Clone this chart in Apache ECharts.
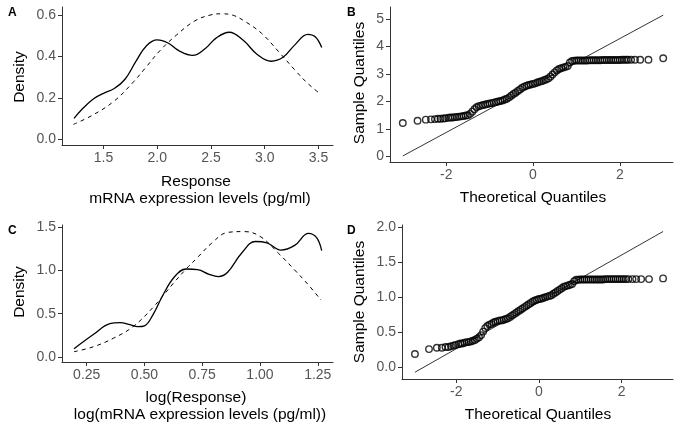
<!DOCTYPE html>
<html lang="en">
<head>
    <meta charset="UTF-8">
    <title>Density and QQ plots</title>
    <script src="https://cdn.jsdelivr.net/npm/echarts@6/dist/echarts.min.js"></script>
    <style>
        html, body { margin: 0; padding: 0; background: #fff; }
        #main { width: 681px; height: 431px; }
    </style>
</head>
<body>
<div id="main"></div>
<script>
    // A: density of Response (solid = observed, dashed = reference)
    var densAx = [1.226, 1.3, 1.405, 1.5, 1.6, 1.7, 1.8, 1.9, 2.0, 2.1, 2.2, 2.33, 2.45, 2.55, 2.67, 2.8, 2.93, 3.06, 3.17, 3.28, 3.4, 3.47, 3.53];
    var densAy = [0.101, 0.145, 0.195, 0.222, 0.245, 0.29, 0.375, 0.452, 0.48, 0.465, 0.428, 0.405, 0.44, 0.49, 0.517, 0.478, 0.41, 0.377, 0.396, 0.456, 0.507, 0.495, 0.443];
    var refAx = [1.22, 1.4, 1.6, 1.78, 1.9, 2.03, 2.18, 2.35, 2.5, 2.6, 2.7, 2.82, 2.97, 3.13, 3.28, 3.4, 3.52];
    var refAy = [0.072, 0.117, 0.185, 0.278, 0.351, 0.431, 0.504, 0.572, 0.601, 0.606, 0.6, 0.568, 0.512, 0.423, 0.335, 0.27, 0.218];

    // C: density of log(Response)
    var densCx = [0.195, 0.28, 0.35, 0.394, 0.437, 0.47, 0.5, 0.54, 0.58, 0.63, 0.68, 0.73, 0.78, 0.82, 0.86, 0.92, 0.98, 1.03, 1.09, 1.15, 1.21, 1.245, 1.267];
    var densCy = [0.095, 0.262, 0.385, 0.397, 0.375, 0.35, 0.36, 0.505, 0.717, 0.928, 1.017, 1.01, 0.955, 0.93, 0.98, 1.199, 1.335, 1.32, 1.235, 1.29, 1.43, 1.38, 1.229];
    var refCx = [0.195, 0.28, 0.365, 0.45, 0.54, 0.625, 0.683, 0.733, 0.79, 0.86, 0.93, 1.0, 1.08, 1.15, 1.21, 1.264];
    var refCy = [0.061, 0.119, 0.216, 0.35, 0.582, 0.852, 1.025, 1.16, 1.314, 1.44, 1.45, 1.395, 1.199, 1.006, 0.832, 0.659];

    // B: normal QQ of Response  [theoretical, sample]
    var qqB = [
        [-3.0, 1.22], [-2.66, 1.30], [-2.47, 1.34], [-2.35, 1.35], [-2.26, 1.36], [-2.19, 1.37], [-2.13, 1.37], [-2.07, 1.38], [-2.02, 1.39],
        [-1.95, 1.41], [-1.90, 1.42], [-1.85, 1.42], [-1.80, 1.43], [-1.75, 1.44], [-1.70, 1.45], [-1.65, 1.46], [-1.60, 1.47],
        [-1.55, 1.49], [-1.50, 1.50], [-1.45, 1.55], [-1.40, 1.63], [-1.35, 1.72], [-1.30, 1.79], [-1.25, 1.83], [-1.20, 1.85],
        [-1.15, 1.87], [-1.10, 1.89], [-1.05, 1.91], [-1.00, 1.93], [-0.95, 1.94], [-0.90, 1.96], [-0.85, 1.98], [-0.80, 2.00],
        [-0.75, 2.02], [-0.70, 2.04], [-0.65, 2.07], [-0.60, 2.10], [-0.55, 2.15], [-0.50, 2.21], [-0.45, 2.27], [-0.40, 2.32],
        [-0.35, 2.38], [-0.30, 2.44], [-0.25, 2.50], [-0.20, 2.54], [-0.15, 2.57], [-0.10, 2.60], [-0.05, 2.62], [0.00, 2.64],
        [0.05, 2.66], [0.10, 2.69], [0.15, 2.72], [0.20, 2.74], [0.25, 2.77], [0.30, 2.80], [0.35, 2.84], [0.40, 2.90],
        [0.45, 2.98], [0.50, 3.06], [0.55, 3.13], [0.60, 3.18], [0.65, 3.21], [0.70, 3.24], [0.75, 3.26], [0.80, 3.29],
        [0.85, 3.42], [0.90, 3.47], [0.95, 3.48], [1.00, 3.49], [1.05, 3.49], [1.10, 3.49], [1.15, 3.49], [1.20, 3.49],
        [1.25, 3.49], [1.30, 3.50], [1.35, 3.50], [1.40, 3.50], [1.45, 3.50], [1.50, 3.50], [1.55, 3.50], [1.60, 3.51],
        [1.65, 3.51], [1.70, 3.51], [1.75, 3.51], [1.80, 3.51], [1.85, 3.51], [1.90, 3.51], [1.95, 3.51], [2.00, 3.51],
        [2.05, 3.52], [2.10, 3.52], [2.15, 3.52],
        [2.19, 3.52], [2.26, 3.52], [2.35, 3.52], [2.47, 3.52], [2.66, 3.52], [3.0, 3.57]
    ];
    var lineB = [[-3.0, 0.02], [3.0, 5.14]];

    // D: normal QQ of log(Response)
    var qqD = [
        [-3.0, 0.19], [-2.66, 0.26], [-2.47, 0.28], [-2.35, 0.28], [-2.26, 0.29], [-2.19, 0.29], [-2.13, 0.30], [-2.07, 0.31], [-2.02, 0.32],
        [-1.95, 0.33], [-1.90, 0.34], [-1.85, 0.34], [-1.80, 0.35], [-1.75, 0.36], [-1.70, 0.36], [-1.65, 0.37], [-1.60, 0.38],
        [-1.55, 0.39], [-1.50, 0.41], [-1.45, 0.43], [-1.40, 0.46], [-1.35, 0.51], [-1.30, 0.56], [-1.25, 0.59], [-1.20, 0.61],
        [-1.15, 0.62], [-1.10, 0.64], [-1.05, 0.65], [-1.00, 0.66], [-0.95, 0.67], [-0.90, 0.67], [-0.85, 0.68], [-0.80, 0.69],
        [-0.75, 0.70], [-0.70, 0.72], [-0.65, 0.74], [-0.60, 0.76], [-0.55, 0.78], [-0.50, 0.80], [-0.45, 0.82], [-0.40, 0.84],
        [-0.35, 0.86], [-0.30, 0.88], [-0.25, 0.90], [-0.20, 0.92], [-0.15, 0.94], [-0.10, 0.955], [-0.05, 0.965], [0.00, 0.975],
        [0.05, 0.98], [0.10, 0.99], [0.15, 1.00], [0.20, 1.01], [0.25, 1.02], [0.30, 1.03], [0.35, 1.05], [0.40, 1.07],
        [0.45, 1.09], [0.50, 1.11], [0.55, 1.13], [0.60, 1.15], [0.65, 1.16], [0.70, 1.17], [0.75, 1.18], [0.80, 1.19],
        [0.85, 1.23], [0.90, 1.25], [0.95, 1.25], [1.00, 1.255], [1.05, 1.255], [1.10, 1.255], [1.15, 1.255], [1.20, 1.255],
        [1.25, 1.255], [1.30, 1.255], [1.35, 1.255], [1.40, 1.255], [1.45, 1.255], [1.50, 1.255], [1.55, 1.255], [1.60, 1.26],
        [1.65, 1.26], [1.70, 1.26], [1.75, 1.26], [1.80, 1.26], [1.85, 1.26], [1.90, 1.26], [1.95, 1.26], [2.00, 1.26],
        [2.05, 1.26], [2.10, 1.26],
        [2.16, 1.26], [2.26, 1.26], [2.35, 1.26], [2.47, 1.26], [2.66, 1.26], [3.0, 1.27]
    ];
    var lineD = [[-3.0, -0.07], [3.0, 1.94]];

    // tick labels
    var ticksAx = [1.5, 2.0, 2.5, 3.0, 3.5];
    var ticksAy = [0.0, 0.2, 0.4, 0.6];
    var ticksBx = [-2, 0, 2];
    var ticksBy = [0, 1, 2, 3, 4, 5];
    var ticksCx = [0.25, 0.5, 0.75, 1.0, 1.25];
    var ticksCy = [0.0, 0.5, 1.0, 1.5];
    var ticksDx = [-2, 0, 2];
    var ticksDy = [0.0, 0.5, 1.0, 1.5, 2.0];
</script>
<script>
    var FONT = '"Liberation Sans", Arial, sans-serif';

    function zip(xs, ys) {
        var out = [];
        for (var i = 0; i < xs.length; i++) out.push([xs[i], ys[i]]);
        return out;
    }

    function valAxis(idx, min, max, ticks, digits) {
        return {
            type: 'value',
            gridIndex: idx,
            min: min,
            max: max,
            splitLine: { show: false },
            axisLine: { show: true, onZero: false, lineStyle: { color: '#333', width: 1 } },
            axisTick: { show: true, length: 4, lineStyle: { color: '#333' }, customValues: ticks },
            axisLabel: {
                color: '#555',
                fontFamily: FONT,
                fontSize: 14,
                margin: 6,
                customValues: ticks,
                formatter: function (v) { return digits === 0 ? String(Math.round(v)) : v.toFixed(digits); }
            }
        };
    }

    var solid = { color: '#000', width: 1.3, type: 'solid' };
    var dashed = { color: '#000', width: 1, type: [4, 4] };

    function curve(idx, data, style) {
        return {
            type: 'line', xAxisIndex: idx, yAxisIndex: idx,
            data: data, smooth: 0.4, showSymbol: false, symbol: 'none',
            lineStyle: style
        };
    }

    function qqPoints(idx, data) {
        return {
            type: 'scatter', xAxisIndex: idx, yAxisIndex: idx,
            data: data, symbol: 'circle', symbolSize: 6.5,
            itemStyle: { color: 'rgba(0,0,0,0)', borderColor: '#000', borderWidth: 1.4 }
        };
    }

    function qqLine(idx, data) {
        return {
            type: 'line', xAxisIndex: idx, yAxisIndex: idx,
            data: data, showSymbol: false, symbol: 'none',
            lineStyle: { color: '#000', width: 0.8 }
        };
    }

    function label(text, x, y, opts) {
        opts = opts || {};
        return {
            type: 'text', x: x, y: y, rotation: opts.rot || 0,
            style: {
                text: text,
                fill: '#000',
                font: (opts.bold ? 'bold ' : '') + (opts.size || 15.5) + 'px ' + FONT,
                textAlign: opts.align || 'center',
                textVerticalAlign: 'middle'
            }
        };
    }

    var chart = echarts.init(document.getElementById('main'));

    var option = {
        animation: false,
        backgroundColor: '#fff',
        grid: [
            { left: 62, top: 7, width: 271, height: 138 },
            { left: 390, top: 7, width: 283, height: 155 },
            { left: 62, top: 225, width: 271, height: 137 },
            { left: 402, top: 225, width: 271, height: 154 }
        ],
        xAxis: [
            valAxis(0, 1.114, 3.635, ticksAx, 1),
            valAxis(1, -3.295, 3.226, ticksBx, 0),
            valAxis(2, 0.143, 1.316, ticksCx, 2),
            valAxis(3, -3.313, 3.24, ticksDx, 0)
        ],
        yAxis: [
            valAxis(0, -0.0275, 0.639, ticksAy, 1),
            valAxis(1, -0.2, 5.436, ticksBy, 0),
            valAxis(2, -0.058, 1.526, ticksCy, 1),
            valAxis(3, -0.167, 2.033, ticksDy, 1)
        ],
        series: [
            curve(0, zip(densAx, densAy), solid),
            curve(0, zip(refAx, refAy), dashed),
            qqLine(1, lineB),
            qqPoints(1, qqB),
            curve(2, zip(densCx, densCy), solid),
            curve(2, zip(refCx, refCy), dashed),
            qqLine(3, lineD),
            qqPoints(3, qqD)
        ],
        graphic: [
            label('A', 8, 13, { bold: true, size: 12, align: 'left' }),
            label('B', 347, 13, { bold: true, size: 12, align: 'left' }),
            label('C', 8, 231, { bold: true, size: 12, align: 'left' }),
            label('D', 347, 231, { bold: true, size: 12, align: 'left' }),

            label('Density', 20, 77, { rot: Math.PI / 2 }),
            label('Response', 196, 182),
            label('mRNA expression levels (pg/ml)', 200, 199),

            label('Sample Quantiles', 360, 83, { rot: Math.PI / 2 }),
            label('Theoretical Quantiles', 533, 198),

            label('Density', 20, 292, { rot: Math.PI / 2 }),
            label('log(Response)', 196, 398),
            label('log(mRNA expression levels (pg/ml))', 200, 415),

            label('Sample Quantiles', 360, 302, { rot: Math.PI / 2 }),
            label('Theoretical Quantiles', 538, 415)
        ]
    };

    chart.setOption(option);
</script>
</body>
</html>
